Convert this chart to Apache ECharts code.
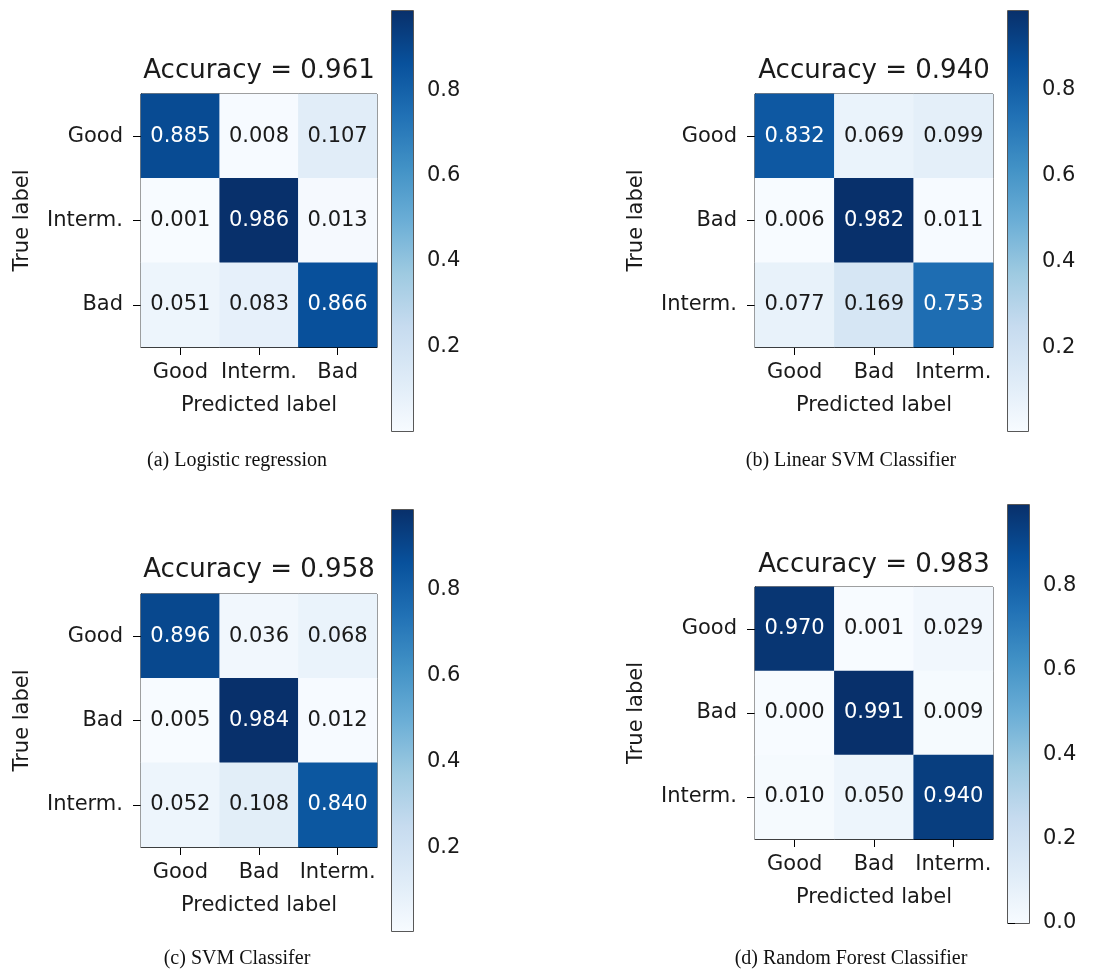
<!DOCTYPE html>
<html>
<head>
<meta charset="utf-8">
<script src="https://cdn.jsdelivr.net/npm/echarts@6/dist/echarts.min.js"></script>
<style>
html,body{margin:0;padding:0;background:#fff;}
#chart{width:1117px;height:973px;}
</style>
</head>
<body>
<div id="chart"></div>
<script>
// ---- Data ----
var labelsA = ['Good', 'Interm.', 'Bad'];
var labelsB = ['Good', 'Bad', 'Interm.'];
var matLogReg = [[0.885, 0.008, 0.107], [0.001, 0.986, 0.013], [0.051, 0.083, 0.866]];
var matLinSVM = [[0.832, 0.069, 0.099], [0.006, 0.982, 0.011], [0.077, 0.169, 0.753]];
var matSVM    = [[0.896, 0.036, 0.068], [0.005, 0.984, 0.012], [0.052, 0.108, 0.840]];
var matRF     = [[0.970, 0.001, 0.029], [0.000, 0.991, 0.009], [0.010, 0.050, 0.940]];
var accuracies = [0.961, 0.940, 0.958, 0.983];
var captions = ['(a) Logistic regression', '(b) Linear SVM Classifier', '(c) SVM Classifer', '(d) Random Forest Classifier'];
var colorbarTicksA = [0.2, 0.4, 0.6, 0.8];
var colorbarTicksD = [0.0, 0.2, 0.4, 0.6, 0.8];

// ---- Layout / style ----
var blues = ['#f7fbff', '#deebf7', '#c6dbef', '#9ecae1', '#6baed6', '#4292c6', '#2171b5', '#08519c', '#08306b'];
var FONT = 'DejaVu Sans';
var panels = [
  {mat: matLogReg, labels: labelsA, ticks: colorbarTicksA,
   grid: {left: 141, top: 94, width: 236, height: 253},
   cbar: {left: 392, top: 11, width: 21, height: 420},
   titleY: 58, cap: [237, 461]},
  {mat: matLinSVM, labels: labelsB, ticks: colorbarTicksA,
   grid: {left: 755, top: 94, width: 238, height: 253},
   cbar: {left: 1008, top: 11, width: 20, height: 420},
   titleY: 58, cap: [851, 461]},
  {mat: matSVM, labels: labelsB, ticks: colorbarTicksA,
   grid: {left: 141, top: 594, width: 236, height: 253},
   cbar: {left: 392, top: 510, width: 21, height: 421},
   titleY: 557, cap: [237, 959]},
  {mat: matRF, labels: labelsB, ticks: colorbarTicksD,
   grid: {left: 755, top: 587, width: 238, height: 252},
   cbar: {left: 1008, top: 505, width: 21, height: 418},
   titleY: 552, cap: [851, 959]}
];

var option = {
  backgroundColor: '#fff',
  animation: false,
  title: [], grid: [], xAxis: [], yAxis: [], series: [], visualMap: [], graphic: []
};

panels.forEach(function (p, i) {
  var flat = [].concat.apply([], p.mat);
  var vmin = Math.min.apply(null, flat), vmax = Math.max.apply(null, flat);
  var thresh = vmax / 2;
  var data = [];
  p.mat.forEach(function (row, r) {
    row.forEach(function (v, c) {
      data.push({value: [c, r, v], label: {color: v > thresh ? '#ffffff' : '#1a1a1a'}});
    });
  });
  var g = 2 * i, gc = 2 * i + 1;
  option.grid.push({left: p.grid.left, top: p.grid.top, width: p.grid.width, height: p.grid.height,
    show: true, borderColor: '#000', borderWidth: 1, backgroundColor: 'transparent'});
  option.grid.push({left: p.cbar.left, top: p.cbar.top, width: p.cbar.width, height: p.cbar.height,
    show: true, borderColor: '#222', borderWidth: 1.5, backgroundColor: 'transparent'});

  option.xAxis.push({type: 'category', gridIndex: g, data: p.labels, position: 'bottom',
    axisLine: {show: true, lineStyle: {color: '#000', width: 1}},
    axisTick: {show: true, alignWithLabel: true, length: 8, lineStyle: {color: '#000'}},
    axisLabel: {color: '#1a1a1a', fontFamily: FONT, fontSize: 21, margin: 15, interval: 0},
    splitLine: {show: false}, splitArea: {show: false},
    name: 'Predicted label', nameLocation: 'middle', nameGap: 48,
    nameTextStyle: {color: '#1a1a1a', fontFamily: FONT, fontSize: 21}});
  option.yAxis.push({type: 'category', gridIndex: g, data: p.labels, inverse: true,
    axisLine: {show: true, lineStyle: {color: '#000', width: 1}},
    axisTick: {show: true, alignWithLabel: true, length: 8, lineStyle: {color: '#000'}},
    axisLabel: {color: '#1a1a1a', fontFamily: FONT, fontSize: 21, margin: 18, interval: 0},
    splitLine: {show: false}, splitArea: {show: false},
    name: 'True label', nameLocation: 'middle', nameGap: 108, nameRotate: 90,
    nameTextStyle: {color: '#1a1a1a', fontFamily: FONT, fontSize: 21}});

  option.xAxis.push({type: 'value', gridIndex: gc, min: 0, max: 1, show: false});
  option.yAxis.push({type: 'value', gridIndex: gc, min: vmin, max: vmax, position: 'right',
    axisLine: {show: false},
    axisTick: {show: true, length: 7, customValues: p.ticks, lineStyle: {color: '#000'}},
    axisLabel: {show: true, customValues: p.ticks, margin: 14, color: '#1a1a1a', fontFamily: FONT, fontSize: 21,
      formatter: function (v) { return v.toFixed(1); }},
    splitLine: {show: false}});

  option.series.push({type: 'heatmap', xAxisIndex: g, yAxisIndex: g, data: data,
    label: {show: true, fontFamily: FONT, fontSize: 21, formatter: function (d) { return d.value[2].toFixed(3); }},
    itemStyle: {borderWidth: 0}, emphasis: {disabled: true}});

  option.series.push({type: 'custom', xAxisIndex: gc, yAxisIndex: gc, data: [[0, vmin, vmax]],
    renderItem: function (params, api) {
      var a = api.coord([0, api.value(2)]);
      var b = api.coord([1, api.value(1)]);
      var stops = blues.map(function (c, k) { return {offset: 1 - k / (blues.length - 1), color: c}; }).reverse();
      return {type: 'rect', shape: {x: a[0], y: a[1], width: b[0] - a[0], height: b[1] - a[1]},
        style: {fill: new echarts.graphic.LinearGradient(0, 0, 0, 1, stops)}};
    }});

  option.visualMap.push({type: 'continuous', show: false, seriesIndex: 2 * i, dimension: 2,
    min: vmin, max: vmax, inRange: {color: blues}});

  option.title.push({text: 'Accuracy = ' + accuracies[i].toFixed(3),
    left: p.grid.left + p.grid.width / 2, top: p.titleY, textAlign: 'center', padding: 0,
    textStyle: {color: '#1a1a1a', fontFamily: FONT, fontSize: 26, fontWeight: 'normal'}});

  option.graphic.push({type: 'text', x: p.cap[0], y: p.cap[1],
    style: {text: captions[i], textAlign: 'center', textVerticalAlign: 'middle',
      fontFamily: 'Liberation Serif', fontSize: 20, fill: '#111'}});
});

var chart = echarts.init(document.getElementById('chart'), null, {renderer: 'canvas'});
chart.setOption(option);
</script>
</body>
</html>
